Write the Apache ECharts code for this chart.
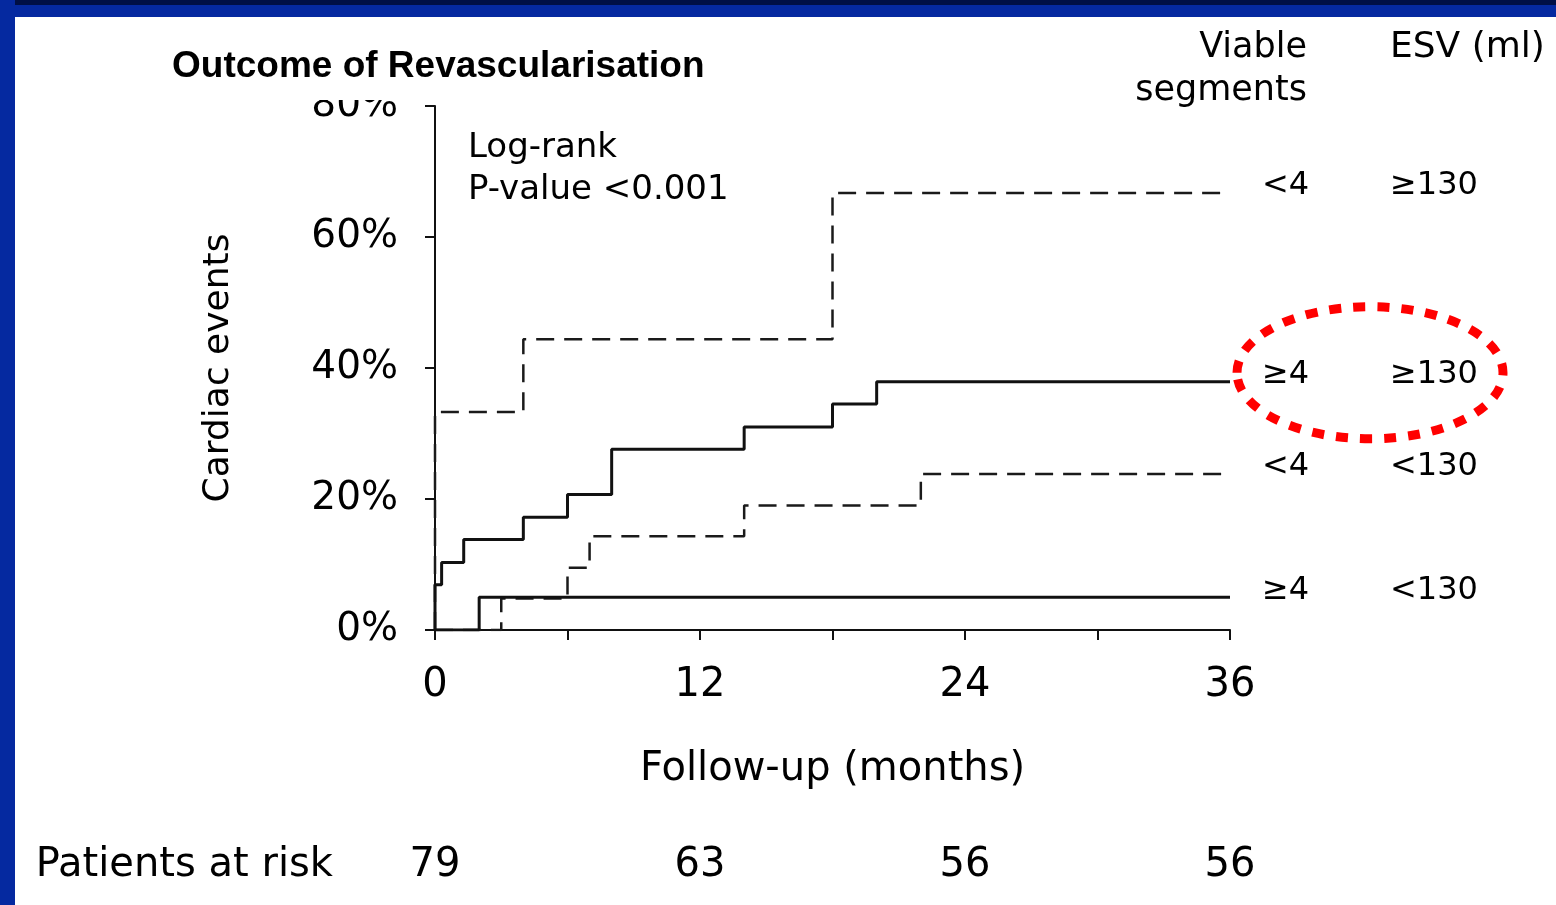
<!DOCTYPE html>
<html>
<head>
<meta charset="utf-8">
<script src="https://cdn.jsdelivr.net/npm/echarts@6/dist/echarts.min.js"></script>
<style>
  html, body { margin: 0; padding: 0; background: #fff; }
  #chart { width: 1556px; height: 905px; }
</style>
</head>
<body>
<div id="chart"></div>
<script>
// ---- Data ----
const groupSegments = ['<4', '≥4', '<4', '≥4'];
const groupESV = ['≥130', '≥130', '<130', '<130'];

// Group 1: <4 viable segments, ESV >=130 (dashed)
const g1Months = [0, 0, 4, 18, 36];
const g1Events = [0, 33.3, 44.4, 66.7, 66.7];
// Group 2: >=4 viable segments, ESV >=130 (solid)
const g2Months = [0, 0, 0.3, 1.3, 4, 6, 8, 14, 18, 20, 36];
const g2Events = [0, 6.9, 10.3, 13.8, 17.2, 20.7, 27.6, 31.0, 34.5, 37.9, 37.9];
// Group 3: <4 viable segments, ESV <130 (dashed)
const g3Months = [0, 3, 6, 7, 14, 22, 36];
const g3Events = [0, 4.8, 9.5, 14.3, 19.0, 23.8, 23.8];
// Group 4: >=4 viable segments, ESV <130 (solid)
const g4Months = [0, 2, 36];
const g4Events = [0, 5.0, 5.0];

const xTickLabels = [0, 12, 24, 36];
const yTickLabels = [0, 20, 40, 60, 80];
const atRiskMonths = [0, 12, 24, 36];
const atRiskCounts = [79, 63, 56, 56];

// ---- Chart ----
const FONT = 'DejaVu Sans';
const chart = echarts.init(document.getElementById('chart'), null, { renderer: 'canvas' });

function pairs(xs, ys) { return xs.map((x, i) => [x, ys[i]]); }

const dashStyle = { color: '#1a1a1a', width: 2.5, type: [18, 10] };
const solidStyle = { color: '#111', width: 3, type: 'solid' };

const curves = [
  { data: pairs(g1Months, g1Events), style: dashStyle },
  { data: pairs(g2Months, g2Events), style: solidStyle },
  { data: pairs(g3Months, g3Events), style: dashStyle },
  { data: pairs(g4Months, g4Events), style: solidStyle }
];

const series = curves.map((c, i) => ({
  type: 'line',
  step: 'end',
  showSymbol: false,
  symbol: 'none',
  data: c.data,
  lineStyle: c.style,
  z: 3,
  endLabel: {
    show: true,
    distance: 5,
    offset: [0, -7],
    formatter: () => '{p| }{a|' + groupSegments[i] + '}{b|' + groupESV[i] + '}',
    rich: {
      p: { width: 27, fontSize: 32 },
      a: { width: 128, fontFamily: FONT, fontSize: 32, color: '#000' },
      b: { width: 120, fontFamily: FONT, fontSize: 32, color: '#000' }
    }
  },
  animation: false
}));

const option = {
  animation: false,
  backgroundColor: '#ffffff',
  title: {
    text: 'Outcome of Revascularisation',
    left: 162,
    top: 42,
    backgroundColor: '#ffffff',
    padding: [5, 10, 13, 10],
    textStyle: {
      fontFamily: 'Liberation Sans',
      fontWeight: 'bold',
      fontSize: 37,
      lineHeight: 40,
      color: '#000'
    }
  },
  grid: { left: 435, right: 326, top: 106, bottom: 275 },
  xAxis: [
    {
      type: 'value',
      min: 0, max: 36, interval: 6,
      name: 'Follow-up (months)',
      nameLocation: 'middle',
      nameGap: 120,
      nameTextStyle: { fontFamily: FONT, fontSize: 40, color: '#000' },
      axisLine: { show: true, lineStyle: { color: '#111', width: 2 } },
      axisTick: { show: true, inside: false, length: 10, lineStyle: { color: '#111', width: 2 } },
      axisLabel: {
        margin: 36,
        fontFamily: FONT, fontSize: 40, color: '#000',
        formatter: v => xTickLabels.indexOf(v) >= 0 ? String(v) : ''
      },
      splitLine: { show: false }
    },
    {
      type: 'value',
      min: 0, max: 36, interval: 12,
      position: 'bottom',
      offset: 236,
      name: 'Patients at risk',
      nameLocation: 'start',
      nameGap: 102,
      nameTextStyle: { fontFamily: FONT, fontSize: 40, color: '#000', verticalAlign: 'middle' },
      axisLine: { show: false },
      axisTick: { show: false },
      axisLabel: {
        margin: 0,
        verticalAlign: 'middle',
        fontFamily: FONT, fontSize: 40, color: '#000',
        formatter: v => {
          const k = atRiskMonths.indexOf(v);
          return k >= 0 ? String(atRiskCounts[k]) : '';
        }
      },
      splitLine: { show: false }
    }
  ],
  yAxis: {
    type: 'value',
    min: 0, max: 80, interval: 20,
    name: 'Cardiac events',
    nameLocation: 'middle',
    nameGap: 198,
    nameTextStyle: { fontFamily: FONT, fontSize: 36, color: '#000' },
    axisLine: { show: true, lineStyle: { color: '#111', width: 2 } },
    axisTick: { show: true, inside: false, length: 10, lineStyle: { color: '#111', width: 2 } },
    axisLabel: {
      margin: 37,
      fontFamily: FONT, fontSize: 39, color: '#000',
      formatter: v => yTickLabels.indexOf(v) >= 0 ? v + '%' : ''
    },
    splitLine: { show: false }
  },
  series: series,
  graphic: [
    { id: 'topDark', type: 'rect', shape: { x: 0, y: 0, width: 1556, height: 5 }, style: { fill: '#000f45' }, z: 100 },
    { id: 'topBlue', type: 'rect', shape: { x: 0, y: 5, width: 1556, height: 12 }, style: { fill: '#0529a0' }, z: 100 },
    { id: 'leftBlue', type: 'rect', shape: { x: 0, y: 0, width: 15, height: 905 }, style: { fill: '#0529a0' }, z: 100 },
    {
      id: 'logrank', type: 'text', x: 468, y: 127, z: 50,
      style: { text: 'Log-rank\nP-value <0.001', fontFamily: FONT, fontSize: 34, lineHeight: 42, fill: '#000' }
    },
    {
      id: 'viable1', type: 'text', x: 1307, y: 48, z: 50,
      style: { text: 'Viable', fontFamily: FONT, fontSize: 35, fill: '#000', align: 'right', verticalAlign: 'middle' }
    },
    {
      id: 'viable2', type: 'text', x: 1307, y: 91, z: 50,
      style: { text: 'segments', fontFamily: FONT, fontSize: 35, fill: '#000', align: 'right', verticalAlign: 'middle' }
    },
    {
      id: 'esv', type: 'text', x: 1390, y: 48, z: 50,
      style: { text: 'ESV (ml)', fontFamily: FONT, fontSize: 36, fill: '#000', align: 'left', verticalAlign: 'middle' }
    }
  ]
};

chart.setOption(option);

// Red dotted ellipse around the highlighted group's end label
const endPt = chart.convertToPixel({ seriesIndex: 1 }, [g2Months[g2Months.length - 1], g2Events[g2Events.length - 1]]);
chart.setOption({
  graphic: [
    {
      id: 'highlight', type: 'ellipse', z: 60,
      shape: { cx: endPt[0] + 140, cy: endPt[1] - 9, rx: 133, ry: 66 },
      style: { fill: 'none', stroke: '#ff0000', lineWidth: 9, lineDash: [12, 12] }
    }
  ]
});
</script>
</body>
</html>
